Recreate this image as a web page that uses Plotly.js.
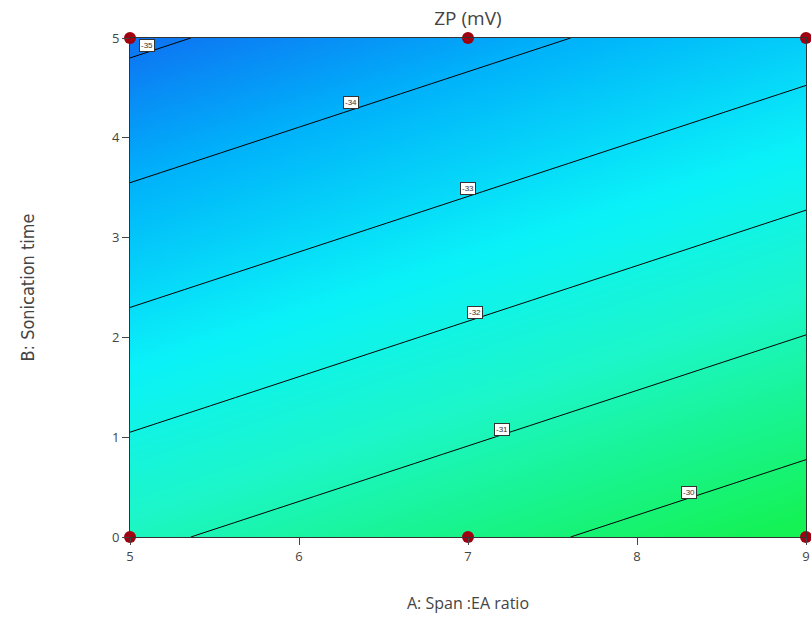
<!DOCTYPE html>
<html>
<head>
<meta charset="utf-8">
<script src="https://cdn.plot.ly/plotly-3.0.1.min.js"></script>
<style>html,body{margin:0;padding:0;background:#fff}#chart{width:811px;height:618px}</style>
</head>
<body>
<div id="chart"></div>
<script>
// A: Span:EA ratio levels, B: Sonication time levels
const spanLevels = [5, 7, 9];
const sonicationLevels = [0, 5];
// ZP (mV) estimated at the grid points (rows = B, cols = A)
const zpAtB0 = [-31.16, -30.27, -29.38];
const zpAtB5 = [-35.16, -34.27, -33.38];
// design points (red dots)
const designA = [5, 7, 9, 5, 7, 9];
const designB = [0, 0, 0, 5, 5, 5];
// contour label texts and positions
const labelText = ['-35', '-34', '-33', '-32', '-31', '-30'];
const labelA = [5.10, 6.31, 7.00, 7.04, 7.20, 8.31];
const labelB = [4.92, 4.35, 3.49, 2.245, 1.08, 0.45];

const contourTrace = {
  type: 'contour',
  x: spanLevels,
  y: sonicationLevels,
  z: [zpAtB0, zpAtB5],
  colorscale: [
    [0, 'rgb(18,95,240)'],
    [0.25, 'rgb(0,178,250)'],
    [0.5, 'rgb(10,242,248)'],
    [0.7, 'rgb(28,246,200)'],
    [1, 'rgb(20,242,84)']
  ],
  showscale: false,
  contours: {coloring: 'heatmap', start: -35, end: -30, size: 1, showlabels: false},
  line: {color: '#000', width: 1},
  hoverinfo: 'skip'
};

const pointsTrace = {
  type: 'scatter',
  mode: 'markers',
  x: designA,
  y: designB,
  marker: {color: '#a00010', size: 12},
  cliponaxis: false,
  hoverinfo: 'skip'
};

const annotations = labelText.map((t, i) => ({
  x: labelA[i], y: labelB[i], xref: 'x', yref: 'y',
  text: t, showarrow: false,
  font: {family: 'Liberation Sans, sans-serif', size: 8, color: '#333'},
  bgcolor: '#fff', bordercolor: '#333', borderwidth: 1, borderpad: 1
}));

const layout = {
  width: 811, height: 618,
  margin: {l: 130, r: 5, t: 38, b: 81},
  paper_bgcolor: '#fff', plot_bgcolor: '#fff',
  showlegend: false,
  title: {text: 'ZP (mV)', x: 0.577, xanchor: 'center', y: 0.97, yanchor: 'middle',
          font: {family: 'Open Sans, sans-serif', size: 19, color: '#444'}},
  xaxis: {
    range: [5, 9], dtick: 1, tick0: 5, showgrid: false, zeroline: false,
    ticks: 'outside', ticklen: 7, tickcolor: '#444',
    showline: true, linecolor: '#333', mirror: true,
    tickfont: {family: 'Open Sans, sans-serif', size: 13, color: '#444'},
    title: {text: 'A: Span :EA ratio', standoff: 34,
            font: {family: 'Open Sans, sans-serif', size: 16, color: '#444'}}
  },
  yaxis: {
    range: [0, 5], dtick: 1, tick0: 0, showgrid: false, zeroline: false,
    ticks: 'outside', ticklen: 7, tickcolor: '#444',
    showline: true, linecolor: '#333', mirror: true,
    tickfont: {family: 'Open Sans, sans-serif', size: 13, color: '#444'},
    title: {text: 'B: Sonication time', standoff: 72,
            font: {family: 'DejaVu Sans, sans-serif', size: 18, color: '#444'}}
  },
  annotations: annotations
};

Plotly.newPlot('chart', [contourTrace, pointsTrace], layout, {displayModeBar: false, staticPlot: true}).then(function () {
  // narrow (condensed) look of the y-axis title
  const yt = document.querySelector('.ytitle');
  if (yt) {
    yt.setAttribute('textLength', '148');
    yt.setAttribute('lengthAdjust', 'spacingAndGlyphs');
  }
});
</script>
</body>
</html>
